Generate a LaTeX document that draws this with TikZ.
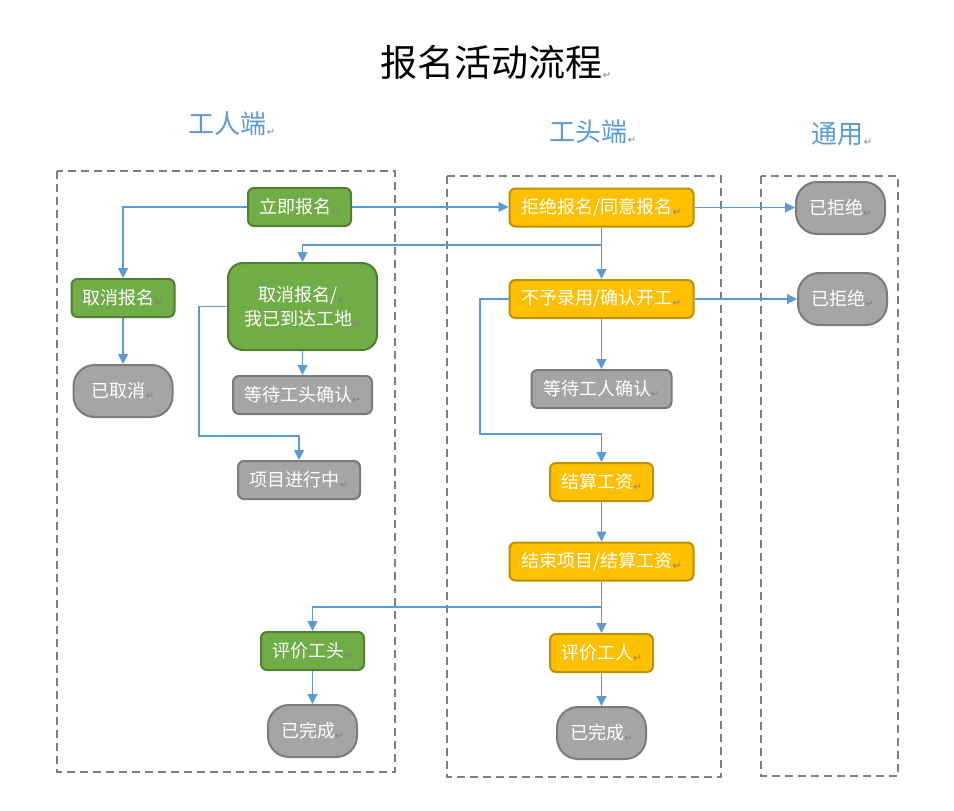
\documentclass[tikz,border=0pt]{standalone}
\usepackage{fontspec}
\setmainfont{Noto Sans CJK SC}
\newfontfamily\symf{DejaVu Sans}
\usetikzlibrary{arrows.meta}
\definecolor{gfill}{HTML}{70AD47}
\definecolor{gline}{HTML}{507E32}
\definecolor{yfill}{HTML}{FFC000}
\definecolor{yline}{HTML}{BF9000}
\definecolor{hfill}{HTML}{A5A5A5}
\definecolor{hline}{HTML}{7B7B7B}
\definecolor{arrc}{HTML}{5B9BD5}
\definecolor{dashc}{HTML}{7F7F7F}
\newcommand{\rmk}{{\symf\fontsize{10}{10}\selectfont\color{gray}\raisebox{-2pt}{↵}}}
\tikzset{
  box/.style={draw, line width=2pt, rounded corners=6pt, inner sep=0pt, minimum height=38pt, text=white, font=\fontsize{18}{21}\selectfont},
  gbox/.style={box, fill=gfill, draw=gline},
  ybox/.style={box, fill=yfill, draw=yline},
  hbox/.style={box, fill=hfill, draw=hline},
  endbox/.style={hbox, rounded corners=21pt, minimum height=52pt, minimum width=89pt},
  arr/.style={draw=arrc, line width=1.1pt, -{Triangle[width=10pt,length=10pt]}},
  lane/.style={draw=dashc, line width=2pt, dash pattern=on 8pt off 5pt},
  hdr/.style={text=arrc, font=\fontsize{26}{30}\selectfont}
}
\begin{document}
\begin{tikzpicture}[x=1pt,y=-1pt]
\useasboundingbox (0,0) rectangle (954,811);
% title and headers
\node (title) at (496,62) {\fontsize{37}{40}\selectfont 报名活动流程\rmk};
\node[hdr] (h1) at (232,124) {工人端\rmk};
\node[hdr] (h2) at (593,132) {工头端\rmk};
\node[hdr] (h3) at (842,134) {通用\rmk};
% lanes
\draw[lane] (57,171) rectangle (395,772);
\draw[lane] (447,176) rectangle (721,777);
\draw[lane] (761,176) rectangle (898,776);
% worker nodes
\node[gbox, minimum width=103pt] (lj) at (299.5,207) {立即报名\rmk};
\node[gbox, minimum width=103pt] (qx) at (123,298) {取消报名\rmk};
\node[endbox, minimum width=99pt] (yq) at (123,391) {已取消\rmk};
\node[gbox, minimum width=149pt, minimum height=87pt, rounded corners=15pt, align=center] (qd) at (302.5,306.5) {取消报名/\rmk\\[3pt]我已到达工地\rmk};
\node[hbox, minimum width=139pt] (dg) at (302.5,395) {等待工头确认\rmk};
\node[hbox, minimum width=122pt] (xm) at (299,480) {项目进行中\rmk};
\node[gbox, minimum width=103pt] (pt) at (312.5,651) {评价工头\rmk};
\node[endbox] (wc1) at (312.5,731) {已完成\rmk};
% foreman nodes
\node[ybox, minimum width=184pt] (jj) at (601.5,207.5) {拒绝报名/同意报名\rmk};
\node[ybox, minimum width=184pt] (by) at (601.5,299) {不予录用/确认开工\rmk};
\node[hbox, minimum width=140pt] (dr) at (601.5,389) {等待工人确认\rmk};
\node[ybox, minimum width=103pt] (js) at (601.5,482) {结算工资\rmk};
\node[ybox, minimum width=184pt] (jx) at (601.5,561.5) {结束项目/结算工资\rmk};
\node[ybox, minimum width=103pt] (pr) at (601.5,653) {评价工人\rmk};
\node[endbox] (wc2) at (601.5,733) {已完成\rmk};
% common nodes
\node[endbox] (jr1) at (840.5,208) {已拒绝\rmk};
\node[endbox] (jr2) at (842.5,299) {已拒绝\rmk};
% helper coordinates
\coordinate (b1) at (601.5,245);
\coordinate (k1) at (480,434);
\coordinate (k2) at (199,436);
\coordinate (b2) at (601.5,607);
% connectors
\draw[arr] (lj.east) -- (lj.east -| jj.west);
\draw[arr] (lj.west) -| (qx.north);
\draw[arr] (qx.south) -- (yq.north);
\draw[arr] (jj.south) -- (by.north);
\draw[arr] (b1) -| (qd.north);
\draw[arr] (jj.east) -- (jj.east -| jr1.west);
\draw[arr] (by.east) -- (by.east -| jr2.west);
\draw[arr] (by.south) -- (dr.north);
\draw[arr] (by.west) -| (k1) -| (js.north);
\draw[arr] (qd.south) -- (dg.north);
\draw[arr] (qd.west) -| (k2) -| (xm.north);
\draw[arr] (js.south) -- (jx.north);
\draw[arr] (jx.south) -- (pr.north);
\draw[arr] (b2) -| (pt.north);
\draw[arr] (pt.south) -- (wc1.north);
\draw[arr] (pr.south) -- (wc2.north);
\end{tikzpicture}
\end{document}
